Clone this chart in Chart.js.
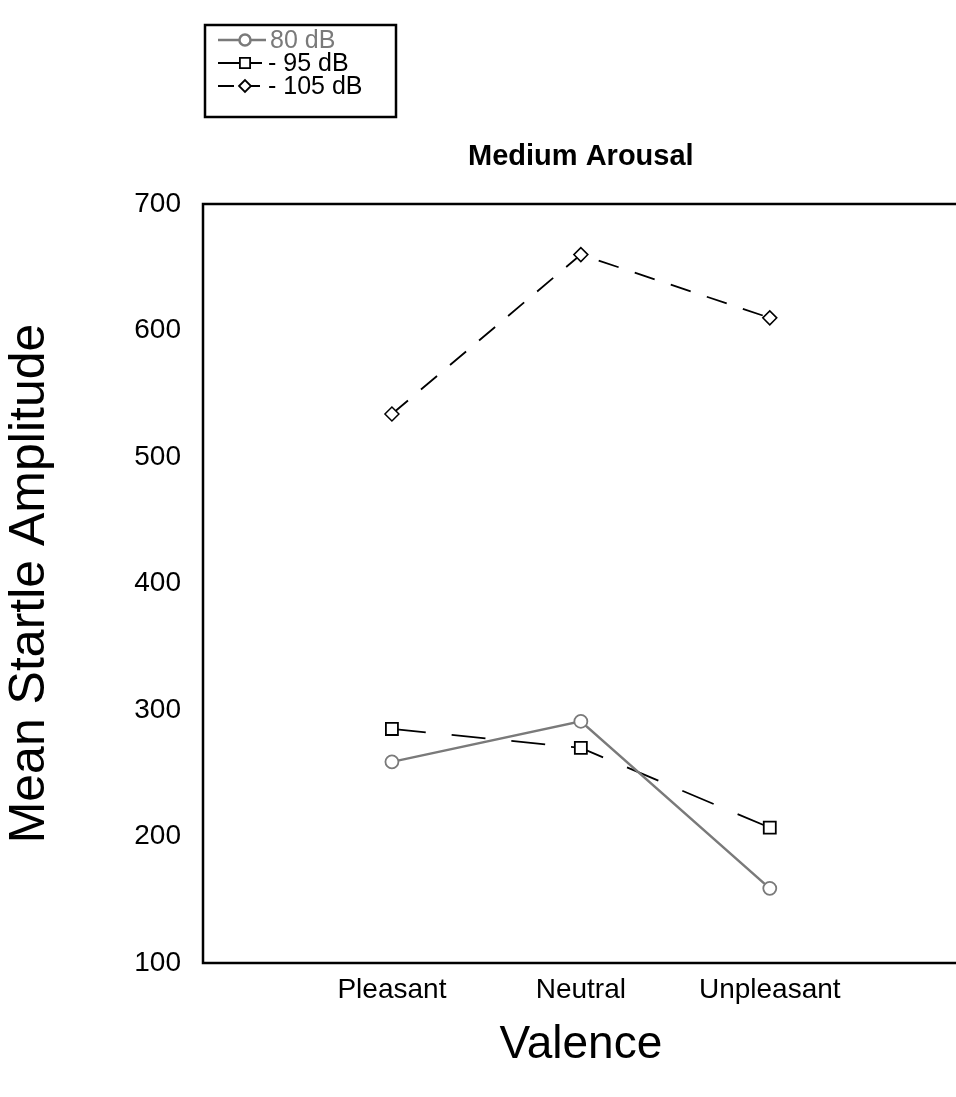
<!DOCTYPE html>
<html>
<head>
<meta charset="utf-8">
<script src="https://cdn.jsdelivr.net/npm/chart.js@4"></script>
<style>
  html, body { margin: 0; padding: 0; background: #fff; overflow: hidden; }
  #wrap { width: 969px; height: 1097px; }
</style>
</head>
<body>
<div id="wrap"><canvas id="startleChart"></canvas></div>
<script>
// categories on the x axis
const valence = ['Pleasant', 'Neutral', 'Unpleasant'];
// mean startle amplitude per probe intensity
const db80 = [259, 291, 159];
const db95 = [285, 270, 207];
const db105 = [534, 660, 610];
const seriesNames = ['80 dB', '95 dB', '105 dB'];
const legendText = ['80 dB', '- 95 dB', '- 105 dB'];
const yTicks = [100, 200, 300, 400, 500, 600, 700];
const chartTitle = 'Medium Arousal';

const FONT = "'Liberation Sans', Arial, sans-serif";

function toPoints(values) {
    return values.map(function(v, i) { return { x: i + 1, y: v }; });
}

// frame around the plot area + title centred over it
const frame = {
    id: 'frame',
    afterDraw: function(chart) {
        const a = chart.chartArea;
        const ctx = chart.ctx;
        ctx.save();
        ctx.strokeStyle = '#000';
        ctx.lineWidth = 2.5;
        ctx.strokeRect(a.left, a.top, a.right - a.left, a.bottom - a.top);
        ctx.fillStyle = '#000';
        ctx.font = 'bold 29px ' + FONT;
        ctx.textAlign = 'center';
        ctx.textBaseline = 'middle';
        ctx.fillText(chartTitle, (a.left + a.right) / 2, 157);
        ctx.restore();
    }
};

// boxed legend in the top-left corner
const boxLegend = {
    id: 'boxLegend',
    afterDraw: function(chart) {
        const ctx = chart.ctx;
        ctx.save();
        ctx.strokeStyle = '#000';
        ctx.lineWidth = 2.5;
        ctx.strokeRect(205, 25, 191, 92);
        ctx.font = '25px ' + FONT;
        ctx.textBaseline = 'middle';
        chart.data.datasets.forEach(function(ds, i) {
            const y = 40 + i * 23;
            const lineEnd = i === 0 ? 266 : 262;
            ctx.strokeStyle = ds.borderColor;
            ctx.lineWidth = ds.borderWidth;
            ctx.setLineDash(i === 2 ? [16, 10] : []);
            ctx.beginPath();
            ctx.moveTo(218, y);
            ctx.lineTo(lineEnd, y);
            ctx.stroke();
            ctx.setLineDash([]);
            ctx.fillStyle = '#fff';
            Chart.helpers.drawPoint(ctx, {
                pointStyle: ds.pointStyle,
                radius: ds.pointRadius * 0.85,
                rotation: 0,
                borderWidth: 1.5
            }, 245, y);
            ctx.fillStyle = ds.borderColor;
            ctx.fillText(legendText[i], i === 0 ? 270 : 268, y + 1);
        });
        ctx.restore();
    }
};

new Chart(document.getElementById('startleChart'), {
    type: 'line',
    data: {
        datasets: [
            {
                label: seriesNames[0],
                data: toPoints(db80),
                borderColor: '#7a7a7a',
                borderWidth: 2.5,
                pointStyle: 'circle',
                pointRadius: 6.5,
                pointBorderWidth: 1.8,
                pointBackgroundColor: '#fff'
            },
            {
                label: seriesNames[1],
                data: toPoints(db95),
                borderColor: '#000',
                borderWidth: 1.8,
                borderDash: [34, 26],
                pointStyle: 'rect',
                pointRadius: 8.5,
                pointBorderWidth: 1.8,
                pointBackgroundColor: '#fff'
            },
            {
                label: seriesNames[2],
                data: toPoints(db105),
                borderColor: '#000',
                borderWidth: 1.8,
                borderDash: [21, 17],
                pointStyle: 'rectRot',
                pointRadius: 7,
                pointBorderWidth: 1.5,
                pointBackgroundColor: '#fff'
            }
        ]
    },
    options: {
        responsive: true,
        maintainAspectRatio: false,
        animation: false,
        layout: {
            padding: { top: 204, left: 0, right: 0, bottom: 24 }
        },
        plugins: {
            legend: { display: false },
            tooltip: { enabled: false },
            title: { display: false }
        },
        scales: {
            x: {
                type: 'linear',
                min: 0,
                max: 4,
                grid: { display: false, drawTicks: false },
                border: { display: false },
                afterBuildTicks: function(scale) {
                    scale.ticks = valence.map(function(v, i) { return { value: i + 1 }; });
                },
                afterFit: function(scale) { scale.height = 110; },
                ticks: {
                    color: '#000',
                    font: { family: FONT, size: 28 },
                    padding: 10,
                    maxRotation: 0,
                    callback: function(value) { return valence[value - 1] || ''; }
                },
                title: {
                    display: true,
                    text: 'Valence',
                    color: '#000',
                    font: { family: FONT, size: 46 },
                    padding: { top: 12, bottom: 0 }
                }
            },
            y: {
                min: 100,
                max: 700,
                grid: { display: false, drawTicks: false },
                border: { display: false },
                afterBuildTicks: function(scale) {
                    scale.ticks = yTicks.map(function(v) { return { value: v }; });
                },
                afterFit: function(scale) { scale.width = 203; },
                ticks: {
                    color: '#000',
                    font: { family: FONT, size: 28 },
                    padding: 22
                },
                title: {
                    display: true,
                    text: 'Mean Startle Amplitude',
                    color: '#000',
                    font: { family: FONT, size: 50 },
                    padding: { top: 0, bottom: 0 }
                }
            }
        }
    },
    plugins: [frame, boxLegend]
});
</script>
</body>
</html>
